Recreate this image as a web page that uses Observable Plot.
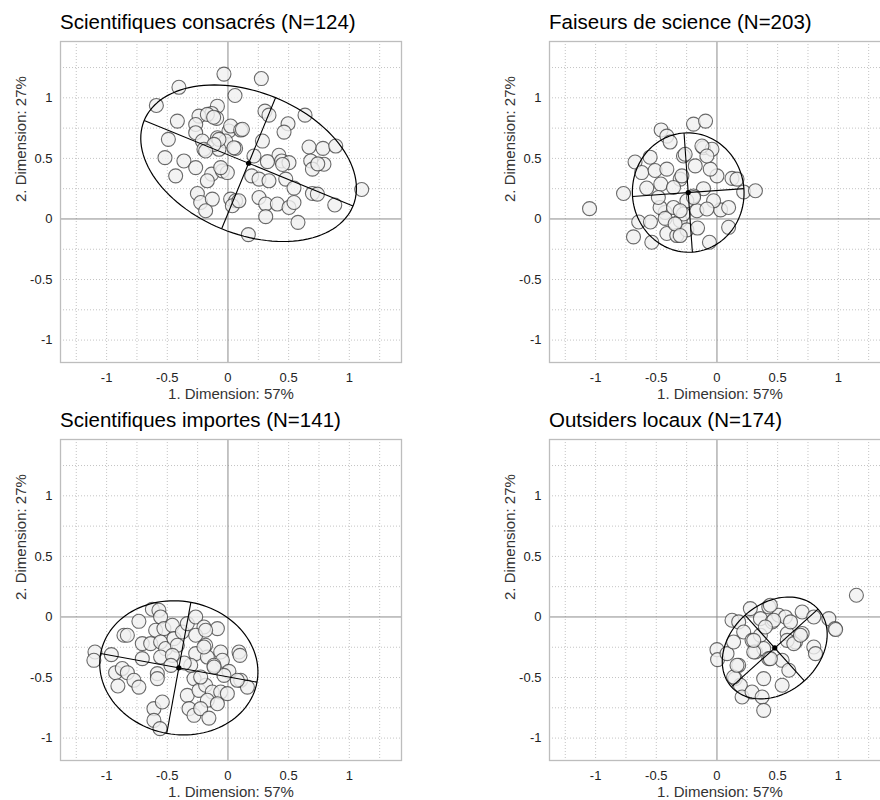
<!DOCTYPE html>
<html>
<head>
<meta charset="utf-8">
<script src="https://cdn.jsdelivr.net/npm/d3@7"></script>
<script src="https://cdn.jsdelivr.net/npm/@observablehq/plot@0.6"></script>
<style>
  html, body { margin: 0; padding: 0; background: #fff; }
  body { width: 880px; height: 800px; overflow: hidden; position: relative;
         font-family: "Liberation Sans", Arial, sans-serif; }
  .panel-title { position: absolute; font-size: 20.5px; line-height: 20.5px; color: #000; white-space: nowrap; }
  .panel-plot { position: absolute; }
</style>
</head>
<body>
<script>
// Group titles, one per panel (row-major order)
const titles = [
  "Scientifiques consacrés (N=124)",
  "Faiseurs de science (N=203)",
  "Scientifiques importes (N=141)",
  "Outsiders locaux (N=174)"
];

// Individual coordinates on the first two MCA dimensions, per group
const consacres = [
  [-0.033,1.196],[-0.404,1.087],[-0.59,0.937],[-0.087,0.931],[-0.134,0.871],[-0.239,0.849],[-0.093,0.83],
  [-0.417,0.808],[-0.266,0.78],[-0.266,0.712],[0.008,0.726],[-0.491,0.657],[-0.087,0.67],[-0.211,0.643],
  [-0.019,0.643],[-0.198,0.575],[-0.074,0.575],[-0.519,0.506],[-0.363,0.479],[-0.266,0.424],[-0.431,0.356],
  [-0.134,0.37],[-0.046,0.397],[-0.005,0.383],[-0.17,0.315],[-0.252,0.21],[-0.225,0.136],[-0.129,0.164],
  [-0.184,0.068],[0.022,0.164],[0.275,1.159],[0.058,1.019],[0.305,0.89],[0.338,0.857],[0.635,0.857],
  [0.495,0.786],[0.462,0.717],[0.022,0.767],[0.105,0.734],[0.284,0.643],[0.668,0.594],[0.783,0.583],
  [0.888,0.602],[0.063,0.583],[0.214,0.52],[0.42,0.526],[0.443,0.479],[0.325,0.473],[0.503,0.465],
  [0.682,0.479],[0.791,0.452],[0.696,0.411],[0.195,0.356],[0.256,0.329],[0.338,0.315],[0.476,0.329],
  [0.544,0.255],[0.696,0.21],[0.737,0.205],[1.102,0.243],[0.256,0.177],[0.311,0.123],[0.407,0.123],
  [0.503,0.095],[0.544,0.136],[0.88,0.115],[0.311,0.019],[0.577,-0.028],[0.168,-0.129],[0.063,0.15],
  [0.036,0.109],[0.119,0.74],[0.049,0.588],[-0.074,0.657],[-0.06,0.424],[0.09,0.15],[-0.17,0.863],
  [-0.115,0.616],[-0.184,0.561],[-0.118,0.84],[0.45,0.45],[0.74,0.455]
];
const faiseurs = [
  [-1.05,0.085],[-0.77,0.21],[-0.675,0.47],[-0.46,0.735],[-0.413,0.684],[-0.386,0.635],[-0.193,0.783],
  [-0.094,0.808],[-0.62,0.383],[-0.551,0.51],[-0.51,0.4],[-0.579,0.255],[-0.463,0.288],[-0.645,-0.025],
  [-0.548,-0.025],[-0.688,-0.148],[-0.537,-0.192],[-0.413,-0.12],[-0.427,0.054],[-0.469,0.095],
  [-0.413,0.411],[-0.483,0.177],[-0.427,0.005],[-0.331,-0.137],[-0.303,-0.014],[-0.248,-0.09],
  [-0.16,-0.075],[-0.062,-0.192],[0.096,-0.069],[0.03,0.075],[0.096,0.095],[-0.028,0.15],[-0.111,0.25],
  [-0.193,0.19],[0.22,0.223],[0.317,0.233],[0.124,0.335],[0.0,0.356],[-0.055,0.411],[-0.179,0.438],
  [-0.276,0.52],[-0.111,0.588],[-0.041,0.575],[-0.262,0.534],[-0.124,0.602],[-0.303,0.329],[-0.358,0.26],
  [-0.248,0.15],[-0.358,0.095],[-0.276,0.041],[-0.165,0.068],[-0.289,0.356],[0.165,0.329],[-0.083,0.082],
  [-0.303,0.068],[-0.345,-0.041],[-0.303,-0.137],[-0.083,0.52],[-0.193,0.177]
];
const importes = [
  [-1.096,-0.289],[-1.105,-0.358],[-0.961,-0.311],[-0.926,-0.46],[-0.907,-0.57],[-0.871,-0.426],
  [-0.829,-0.46],[-0.775,-0.523],[-0.734,-0.579],[-0.857,-0.151],[-0.829,-0.151],[-0.734,-0.036],
  [-0.706,-0.22],[-0.706,-0.344],[-0.623,0.064],[-0.569,0.055],[-0.555,0],[-0.596,-0.11],[-0.528,-0.096],
  [-0.458,-0.069],[-0.637,-0.22],[-0.555,-0.207],[-0.514,-0.261],[-0.555,-0.331],[-0.445,-0.179],
  [-0.417,-0.234],[-0.458,-0.317],[-0.376,-0.124],[-0.335,-0.055],[-0.266,0],[-0.198,-0.083],
  [-0.087,-0.096],[-0.266,-0.151],[-0.184,-0.234],[-0.266,-0.303],[-0.17,-0.331],[-0.06,-0.289],
  [-0.046,-0.358],[-0.115,-0.399],[0.091,-0.289],[0.099,-0.317],[0.008,-0.449],[0.105,-0.523],
  [0.16,-0.579],[-0.582,-0.468],[-0.61,-0.757],[-0.61,-0.854],[-0.56,-0.922],[-0.541,-0.702],
  [-0.582,-0.509],[-0.28,-0.509],[-0.335,-0.647],[-0.321,-0.757],[-0.28,-0.812],[-0.239,-0.606],
  [-0.184,-0.564],[-0.129,-0.62],[-0.06,-0.62],[-0.17,-0.688],[-0.225,-0.757],[-0.157,-0.835],
  [-0.087,-0.716],[-0.307,-0.399],[-0.033,-0.482],[-0.005,-0.633],[0.077,-0.523],[-0.184,-0.11],
  [-0.198,-0.248],[-0.115,-0.413],[-0.225,-0.496],[-0.36,-0.38],[-0.47,-0.4]
];
const outsiders = [
  [1.149,0.179],[0.0,-0.27],[0.005,-0.352],[0.083,-0.303],[0.124,-0.027],[0.179,-0.041],[0.275,0.069],
  [0.358,-0.014],[0.427,0.083],[0.455,-0.041],[0.509,0.014],[0.564,0],[0.22,-0.124],[0.137,-0.207],
  [0.289,-0.193],[0.358,-0.151],[0.579,-0.137],[0.647,-0.207],[0.702,-0.137],[0.702,0.041],[0.798,0],
  [0.922,-0.014],[0.972,-0.096],[0.317,-0.289],[0.385,-0.261],[0.427,-0.344],[0.537,-0.358],[0.592,-0.44],
  [0.798,-0.248],[0.812,-0.303],[0.179,-0.399],[0.151,-0.509],[0.193,-0.564],[0.385,-0.509],[0.537,-0.564],
  [0.207,-0.661],[0.289,-0.62],[0.372,-0.661],[0.385,-0.771],[0.606,-0.041],[0.978,-0.104],[0.44,0.097],
  [0.468,-0.027],[0.399,-0.083],[0.579,-0.193],[0.303,-0.289],[0.44,-0.344],[0.633,-0.22],[0.303,-0.193],
  [0.137,-0.496],[0.165,-0.399],[0.688,-0.151]
];

// Concentration ellipse of each group: centre, semi-axes and orientation (degrees)
const ellipseCx    = [0.17, -0.237, -0.405, 0.476];
const ellipseCy    = [0.46, 0.218, -0.42, -0.256];
const ellipseMajor = [0.93, 0.493, 0.655, 0.48];
const ellipseMinor = [0.585, 0.46, 0.55, 0.365];
const ellipseAngle = [-22.3, 94, -10.4, 42];

// Axis ticks and grid
const xTicks = [-1, -0.5, 0, 0.5, 1];
const yTicks = [-1, -0.5, 0, 0.5, 1];
const gridValues = [-1.25, -1, -0.75, -0.5, -0.25, 0.25, 0.5, 0.75, 1, 1.25];
const xLabel = "1. Dimension: 57%";
const yLabel = "2. Dimension: 27%";

const xDomain = [-1.38, 1.43];
const yDomain = [-1.185, 1.465];

const groups = [consacres, faiseurs, importes, outsiders];
const panelLeft = [0, 489, 0, 489];
const panelTop = [36, 36, 434, 434];
const titleTop = [12, 12, 410, 410];

function ellipseOutline(i) {
  const th = ellipseAngle[i] * Math.PI / 180, c = Math.cos(th), s = Math.sin(th);
  const a = ellipseMajor[i], b = ellipseMinor[i];
  return d3.range(0, 361, 3).map(deg => {
    const t = deg * Math.PI / 180;
    return {x: ellipseCx[i] + a * Math.cos(t) * c - b * Math.sin(t) * s,
            y: ellipseCy[i] + a * Math.cos(t) * s + b * Math.sin(t) * c};
  });
}

function ellipseAxes(i) {
  const th = ellipseAngle[i] * Math.PI / 180, c = Math.cos(th), s = Math.sin(th);
  const a = ellipseMajor[i], b = ellipseMinor[i], cx = ellipseCx[i], cy = ellipseCy[i];
  return [
    {x1: cx - a * c, y1: cy - a * s, x2: cx + a * c, y2: cy + a * s},
    {x1: cx + b * s, y1: cy - b * c, x2: cx - b * s, y2: cy + b * c}
  ];
}

const fmt = d => String(d);

groups.forEach((pts, i) => {
  const title = document.createElement("div");
  title.className = "panel-title";
  title.style.left = (panelLeft[i] + 60) + "px";
  title.style.top = titleTop[i] + "px";
  title.textContent = titles[i];
  document.body.appendChild(title);

  const chart = Plot.plot({
    width: 411,
    height: 364,
    marginLeft: 60,
    marginRight: 10,
    marginTop: 5,
    marginBottom: 38,
    style: {fontFamily: "'Liberation Sans', Arial, sans-serif", fontSize: "13px", color: "#222", background: "white"},
    x: {domain: xDomain, ticks: xTicks, tickSize: 0, tickPadding: 10, tickFormat: fmt, label: null},
    y: {domain: yDomain, ticks: yTicks, tickSize: 0, tickPadding: 8, tickFormat: fmt, label: null},
    marks: [
      Plot.ruleX(gridValues.filter(v => v > xDomain[0] && v < xDomain[1]), {stroke: "#c4c4c4", strokeDasharray: "1,2"}),
      Plot.ruleY(gridValues.filter(v => v > yDomain[0] && v < yDomain[1]), {stroke: "#c4c4c4", strokeDasharray: "1,2"}),
      Plot.ruleX([0], {stroke: "#8c8c8c"}),
      Plot.ruleY([0], {stroke: "#8c8c8c"}),
      Plot.frame({stroke: "#bdbdbd", strokeWidth: 1.3}),
      Plot.dot(pts, {x: d => d[0], y: d => d[1], r: 7, fill: "#f0f0f0", fillOpacity: 0.8,
                     stroke: "#3a3a3a", strokeOpacity: 0.75, strokeWidth: 1.1}),
      Plot.line(ellipseOutline(i), {x: "x", y: "y", stroke: "black", strokeWidth: 1.2}),
      Plot.link(ellipseAxes(i), {x1: "x1", y1: "y1", x2: "x2", y2: "y2", stroke: "black", strokeWidth: 1.1}),
      Plot.dot([[ellipseCx[i], ellipseCy[i]]], {x: d => d[0], y: d => d[1], r: 2.6, fill: "black"}),
      Plot.text([xLabel], {text: d => d, frameAnchor: "bottom", lineAnchor: "bottom", dy: 36, fontSize: 15, fill: "#333"}),
      Plot.text([yLabel], {text: d => d, frameAnchor: "left", lineAnchor: "bottom", rotate: -90, dx: -35, fontSize: 15, fill: "#333"})
    ]
  });
  chart.classList.add("panel-plot");
  chart.style.left = panelLeft[i] + "px";
  chart.style.top = panelTop[i] + "px";
  document.body.appendChild(chart);
});
</script>
</body>
</html>
